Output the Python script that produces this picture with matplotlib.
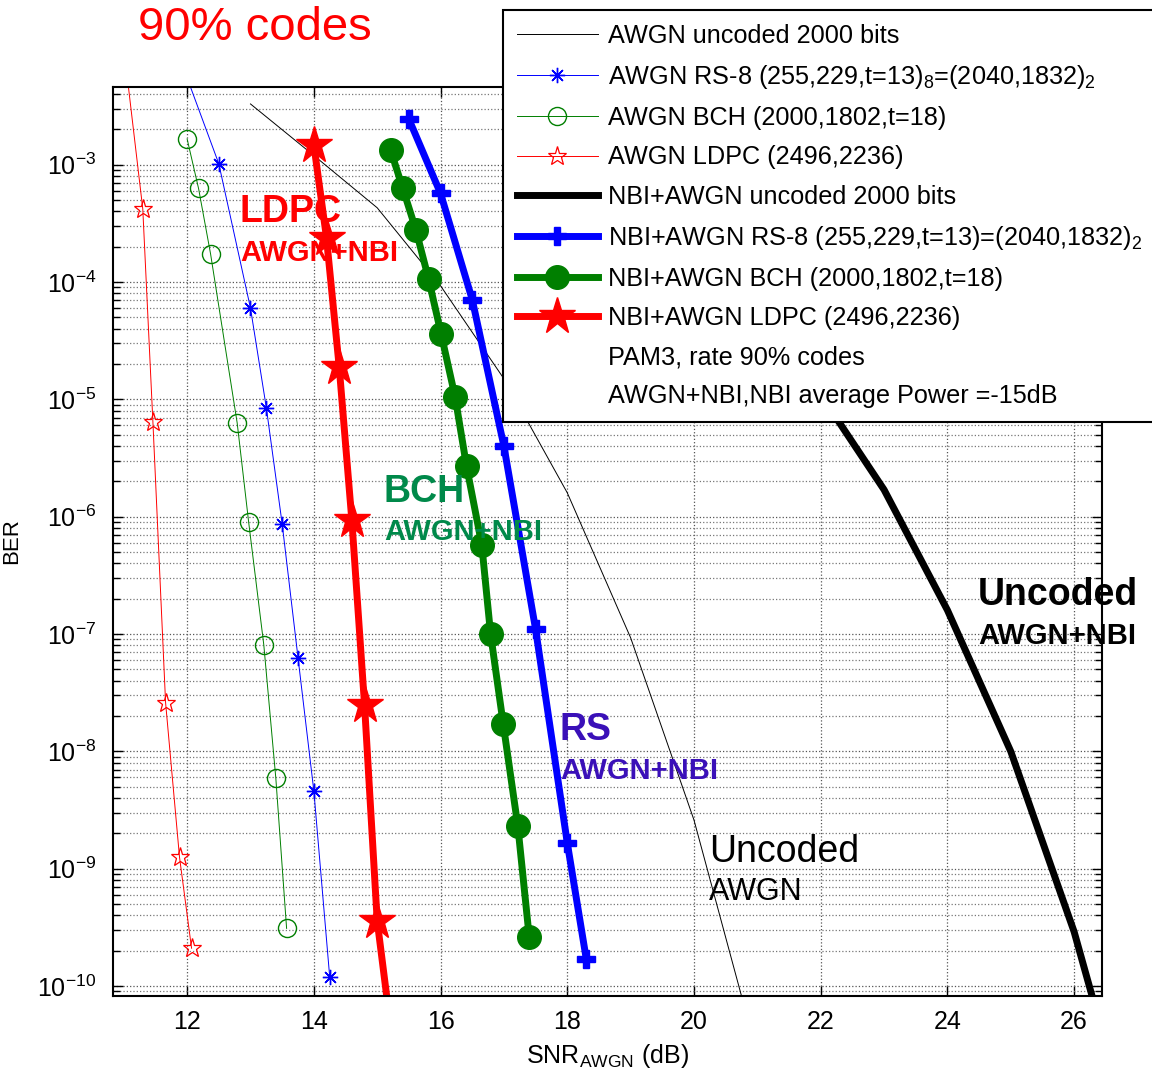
import matplotlib.pyplot as plt
import numpy as np
from matplotlib.lines import Line2D
from matplotlib.ticker import LogLocator, NullFormatter, FixedLocator

plt.rcParams['font.family'] = ['Liberation Sans', 'DejaVu Sans']
plt.rcParams['mathtext.fontset'] = 'custom'
plt.rcParams['mathtext.rm'] = 'Liberation Sans'
plt.rcParams['mathtext.it'] = 'Liberation Sans:italic'
plt.rcParams['mathtext.bf'] = 'Liberation Sans:bold'
plt.rcParams['axes.unicode_minus'] = False

# AWGN only
snr_unc = [13, 14, 15, 16, 17, 18, 19, 20, 21]
ber_unc = [3.3e-3, 1.2e-3, 4.3e-4, 9.3e-5, 1.5e-5, 1.6e-6, 9.3e-8, 2.6e-9, 2.6e-11]

snr_rs = [12.0, 12.5, 13.0, 13.25, 13.5, 13.75, 14.0, 14.25]
ber_rs = [5.5e-3, 1.02e-3, 6.0e-5, 8.5e-6, 8.7e-7, 6.3e-8, 4.6e-9, 1.2e-10]

snr_bch = [12.0, 12.18, 12.37, 12.79, 12.97, 13.21, 13.4, 13.57]
ber_bch = [1.66e-3, 6.3e-4, 1.74e-4, 6.3e-6, 9.1e-7, 8.1e-8, 5.9e-9, 3.1e-10]

snr_ldpc = [11.0, 11.3, 11.46, 11.66, 11.88, 12.07]
ber_ldpc = [1e-2, 4.2e-4, 6.4e-6, 2.6e-8, 1.25e-9, 2.1e-10]

# NBI + AWGN
snr_unc_nbi = [18, 19, 20, 21, 22, 23, 24, 25, 26, 27]
ber_unc_nbi = [5e-3, 1.5e-3, 4e-4, 8e-5, 1.1e-5, 1.7e-6, 1.6e-7, 1e-8, 2.9e-10, 3.4e-12]

snr_rs_nbi = [15.5, 16.0, 16.5, 17.0, 17.5, 18.0, 18.3]
ber_rs_nbi = [2.45e-3, 5.7e-4, 7.1e-5, 4.0e-6, 1.1e-7, 1.66e-9, 1.7e-10]

snr_bch_nbi = [15.21, 15.4, 15.61, 15.81, 16.01, 16.23, 16.41, 16.65, 16.79, 16.99, 17.22, 17.4]
ber_bch_nbi = [1.34e-3, 6.4e-4, 2.8e-4, 1.07e-4, 3.6e-5, 1.05e-5, 2.7e-6, 5.8e-7, 1.0e-7, 1.7e-8, 2.3e-9, 2.6e-10]

snr_ldpc_nbi = [14.0, 14.2, 14.4, 14.6, 14.8, 15.0, 15.2]
ber_ldpc_nbi = [1.48e-3, 2.38e-4, 1.9e-5, 9.3e-7, 2.5e-8, 3.6e-10, 5e-11]

W, H = 1152, 1075
fig = plt.figure(figsize=(W / 100, H / 100), dpi=100)
ax = fig.add_axes([113 / W, 1 - 996 / H, (1102 - 113) / W, (996 - 87) / H])

green = '#007f00'
asterisk = (8, 2, 0)

l1, = ax.semilogy(snr_unc, ber_unc, color='k', lw=0.7)
l2, = ax.semilogy(snr_rs, ber_rs, color='b', lw=0.7, marker=asterisk, ms=11, mew=1.0)
l3, = ax.semilogy(snr_bch, ber_bch, color=green, lw=0.7, marker='o', ms=13, mfc='none', mew=1.0)
l4, = ax.semilogy(snr_ldpc, ber_ldpc, color='r', lw=0.7, marker='*', ms=14, mfc='none', mew=0.9)
l5, = ax.semilogy(snr_unc_nbi, ber_unc_nbi, color='k', lw=5)
l6, = ax.semilogy(snr_rs_nbi, ber_rs_nbi, color='b', lw=5, marker='P', ms=13)
l7, = ax.semilogy(snr_bch_nbi, ber_bch_nbi, color=green, lw=5, marker='o', ms=17)
l8, = ax.semilogy(snr_ldpc_nbi, ber_ldpc_nbi, color='r', lw=5, marker='*', ms=28)

ax.set_xlim(10.83, 26.44)
ax.set_ylim(10 ** -10.085, 10 ** -2.337)
ax.set_xticks([12, 14, 16, 18, 20, 22, 24, 26])
ax.yaxis.set_major_locator(FixedLocator([10.0 ** k for k in range(-10, -2)]))
ax.yaxis.set_minor_locator(LogLocator(base=10, subs=np.arange(2, 10), numticks=30))
ax.yaxis.set_minor_formatter(NullFormatter())
ax.tick_params(which='both', direction='in', top=True, right=True, labelsize=18)
ax.tick_params(which='major', length=7, width=1)
ax.tick_params(which='minor', length=5, width=1)
ax.tick_params(axis='x', pad=10)
ax.tick_params(axis='y', pad=12)
ax.grid(True, which='major', color='#555555', ls=':', lw=0.9)
ax.grid(True, which='minor', axis='y', color='#777777', ls=':', lw=0.9)
for s in ax.spines.values():
    s.set_linewidth(1.5)

ax.set_ylabel('BER', fontsize=16)
ax.yaxis.set_label_coords(-0.092, 0.5)
ax.set_xlabel(r'SNR$_{\mathrm{AWGN}}$ (dB)', fontsize=18, labelpad=6)

# curve labels
def fpos(x, y):
    return x / W, 1 - y / H

fig.text(*fpos(240, 212), 'LDPC', color='r', fontsize=27, fontweight='bold', va='center')
fig.text(*fpos(240, 253), 'AWGN+NBI', color='r', fontsize=21, fontweight='bold', va='center')
fig.text(*fpos(384, 492), 'BCH', color='#00894a', fontsize=27, fontweight='bold', va='center')
fig.text(*fpos(384, 532), 'AWGN+NBI', color='#00894a', fontsize=21, fontweight='bold', va='center')
fig.text(*fpos(560, 730), 'RS', color='#3a10b8', fontsize=27, fontweight='bold', va='center')
fig.text(*fpos(560, 771), 'AWGN+NBI', color='#3a10b8', fontsize=21, fontweight='bold', va='center')
fig.text(*fpos(709, 852), 'Uncoded', color='k', fontsize=27, va='center')
fig.text(*fpos(709, 892), 'AWGN', color='k', fontsize=22, va='center')
fig.text(*fpos(978, 595), 'Uncoded', color='k', fontsize=27, fontweight='bold', va='center')
fig.text(*fpos(978, 636), 'AWGN+NBI', color='k', fontsize=21, fontweight='bold', va='center')

fig.text(*fpos(138, 28), '90% codes', color='r', fontsize=34, va='center')

blank = Line2D([], [], color='none')
handles = [l1, l2, l3, l4, l5, l6, l7, l8, blank, blank]
labels = [
    'AWGN uncoded 2000 bits',
    r'AWGN RS-8 (255,229,t=13)$_8$=(2040,1832)$_2$',
    'AWGN BCH (2000,1802,t=18)',
    'AWGN LDPC (2496,2236)',
    'NBI+AWGN uncoded 2000 bits',
    r'NBI+AWGN RS-8 (255,229,t=13)=(2040,1832)$_2$',
    'NBI+AWGN BCH (2000,1802,t=18)',
    'NBI+AWGN LDPC (2496,2236)',
    'PAM3, rate 90% codes',
    'AWGN+NBI,NBI average Power =-15dB',
]
leg = fig.legend(handles, labels, loc='upper left', bbox_to_anchor=(503 / W, 1 - 10 / H),
                 fontsize=18.2, frameon=True, fancybox=False, edgecolor='k', framealpha=1,
                 handlelength=3.2, borderpad=0.55, labelspacing=0.6, handletextpad=0.42,
                 borderaxespad=0)
leg.get_frame().set_linewidth(1.5)

fig.savefig('out.png', dpi=100)
